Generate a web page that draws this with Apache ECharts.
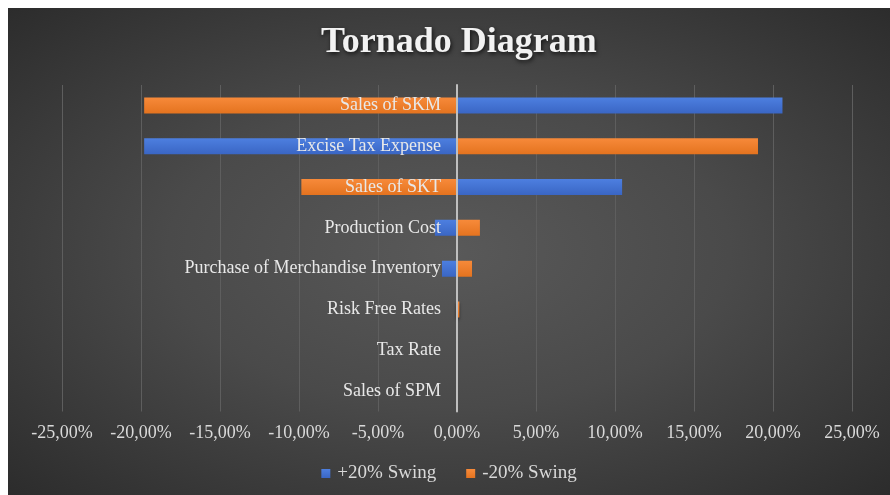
<!DOCTYPE html>
<html>
<head>
<meta charset="utf-8">
<script src="https://cdn.jsdelivr.net/npm/echarts@6/dist/echarts.min.js"></script>
<style>
  html, body { margin: 0; padding: 0; background: #fff; }
  #chart {
    position: absolute; left: 8px; top: 8px; width: 882px; height: 487px;
    background: radial-gradient(ellipse at 50% 50%, #595959 0%, #4a4a4a 45%, #2c2c2c 100%);
  }
</style>
</head>
<body>
<div id="chart"></div>
<script>
// categories, top to bottom
const categories = ['Sales of SKM', 'Excise Tax Expense', 'Sales of SKT', 'Production Cost',
  'Purchase of Merchandise Inventory', 'Risk Free Rates', 'Tax Rate', 'Sales of SPM'];
// swing values in percent
const plusSwing = [20.6, -19.8, 10.45, -1.4, -0.95, -0.05, 0, 0];
const minusSwing = [-19.8, 19.05, -9.85, 1.45, 0.95, 0.15, 0, 0];
const xTicks = { min: -25, max: 25, interval: 5 };

const serif = '"Liberation Serif", "DejaVu Serif", serif';
const chart = echarts.init(document.getElementById('chart'));

const gridLeft = 54;
const gridRight = 38;
// distance from grid's left edge to the zero of the value axis
const plotW = 882 - gridLeft - gridRight;
const zeroOffset = plotW * (0 - xTicks.min) / (xTicks.max - xTicks.min);

function barColor(top, bottom) {
  return new echarts.graphic.LinearGradient(0, 0, 0, 1, [
    { offset: 0, color: top }, { offset: 1, color: bottom }
  ]);
}

const option = {
  backgroundColor: 'transparent',
  title: {
    text: 'Tornado Diagram',
    left: 308,
    top: 12,
    textStyle: {
      fontFamily: serif, fontSize: 36, fontWeight: 'bold', color: '#f2f2f2',
      textShadowColor: 'rgba(0,0,0,0.7)', textShadowBlur: 4, textShadowOffsetX: 1, textShadowOffsetY: 2
    }
  },
  grid: { left: gridLeft, right: gridRight, top: 77, bottom: 83.5, containLabel: false, outerBoundsMode: 'none' },
  legend: {
    bottom: 7,
    left: 'center',
    icon: 'rect',
    itemWidth: 9,
    itemHeight: 9,
    itemGap: 30,
    textStyle: { fontFamily: serif, fontSize: 19, color: '#d9d9d9', padding: [0, 0, 0, 2] }
  },
  xAxis: {
    type: 'value',
    min: xTicks.min, max: xTicks.max, interval: xTicks.interval,
    axisLine: { show: false },
    axisTick: { show: false },
    splitLine: { lineStyle: { color: '#5e5e5e', width: 1 } },
    axisLabel: {
      margin: 13,
      fontFamily: serif, fontSize: 18, color: '#d9d9d9',
      formatter: v => v.toFixed(2).replace('.', ',') + '%'
    }
  },
  yAxis: {
    type: 'category',
    data: categories,
    inverse: true,
    z: 10,
    position: 'left',
    offset: -zeroOffset,
    axisLine: { onZero: false, lineStyle: { color: '#bfbfbf', width: 2 } },
    axisTick: { show: false },
    splitLine: { show: false },
    axisLabel: { margin: 16, fontFamily: serif, fontSize: 18, color: '#e8e8e8' }
  },
  series: [
    {
      name: '+20% Swing', type: 'bar', data: plusSwing,
      barWidth: 16, barGap: '-100%',
      itemStyle: {
        color: barColor('#4d7fe0', '#3a66c4'),
        shadowColor: 'rgba(0,0,0,0.45)', shadowBlur: 3, shadowOffsetY: 2
      }
    },
    {
      name: '-20% Swing', type: 'bar', data: minusSwing,
      barWidth: 16, barGap: '-100%',
      itemStyle: {
        color: barColor('#f78a3a', '#e4731f'),
        shadowColor: 'rgba(0,0,0,0.45)', shadowBlur: 3, shadowOffsetY: 2
      }
    }
  ]
};
chart.setOption(option);
</script>
</body>
</html>
